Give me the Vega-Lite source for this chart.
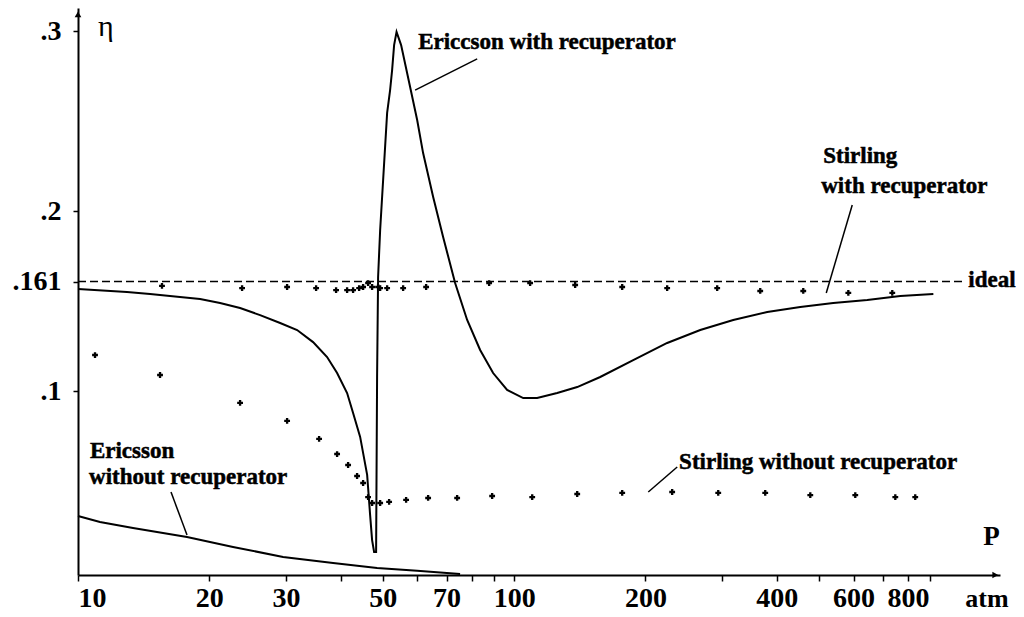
{
  "$schema": "https://vega.github.io/schema/vega-lite/v6.json",
  "width": 922,
  "height": 567,
  "autosize": {"type": "none"},
  "padding": {"left": 78, "top": 8, "right": 24, "bottom": 42},
  "background": "white",
  "config": {
    "view": {"stroke": null},
    "font": "Liberation Serif"
  },
  "datasets": {
    "ewr": [
      {"i": 1, "P": 10, "eta": 0.1569}, {"i": 2, "P": 12.95, "eta": 0.1552}, {"i": 3, "P": 14.63, "eta": 0.1541},
      {"i": 4, "P": 17.13, "eta": 0.1524}, {"i": 5, "P": 19.05, "eta": 0.1513}, {"i": 6, "P": 21.17, "eta": 0.1491},
      {"i": 7, "P": 23.53, "eta": 0.1463}, {"i": 8, "P": 26.15, "eta": 0.1424}, {"i": 9, "P": 29.07, "eta": 0.138},
      {"i": 10, "P": 31.8, "eta": 0.1341}, {"i": 11, "P": 34.59, "eta": 0.1274}, {"i": 12, "P": 37.25, "eta": 0.1191},
      {"i": 13, "P": 39.27, "eta": 0.1102}, {"i": 14, "P": 41.4, "eta": 0.0991}, {"i": 15, "P": 42.73, "eta": 0.088},
      {"i": 16, "P": 44.35, "eta": 0.0747}, {"i": 17, "P": 46.02, "eta": 0.0536}, {"i": 18, "P": 46.75, "eta": 0.0313},
      {"i": 19, "P": 47.24, "eta": 0.0174}, {"i": 20, "P": 47.74, "eta": 0.0108}, {"i": 21, "P": 48.25, "eta": 0.0108},
      {"i": 22, "P": 48.5, "eta": 0.108}, {"i": 23, "P": 48.76, "eta": 0.1636}, {"i": 24, "P": 49.29, "eta": 0.1897},
      {"i": 25, "P": 51.14, "eta": 0.2547}, {"i": 26, "P": 51.95, "eta": 0.2674}, {"i": 27, "P": 52.51, "eta": 0.2786},
      {"i": 28, "P": 53.06, "eta": 0.2924}, {"i": 29, "P": 53.75, "eta": 0.2997}, {"i": 30, "P": 55.06, "eta": 0.2924},
      {"i": 31, "P": 57.74, "eta": 0.2691}, {"i": 32, "P": 59.93, "eta": 0.2508}, {"i": 33, "P": 61.84, "eta": 0.2324},
      {"i": 34, "P": 65.21, "eta": 0.208}, {"i": 35, "P": 68.73, "eta": 0.1858}, {"i": 36, "P": 73.22, "eta": 0.1602},
      {"i": 37, "P": 78.03, "eta": 0.1397}, {"i": 38, "P": 83.56, "eta": 0.123}, {"i": 39, "P": 89.49, "eta": 0.1102},
      {"i": 40, "P": 96.36, "eta": 0.1008}, {"i": 41, "P": 104.9, "eta": 0.0963}, {"i": 42, "P": 112.9, "eta": 0.0963},
      {"i": 43, "P": 125.5, "eta": 0.0991}, {"i": 44, "P": 139.5, "eta": 0.1024}, {"i": 45, "P": 157.5, "eta": 0.108},
      {"i": 46, "P": 187.5, "eta": 0.1174}, {"i": 47, "P": 224.3, "eta": 0.1269}, {"i": 48, "P": 267.1, "eta": 0.1341},
      {"i": 49, "P": 317.9, "eta": 0.1397}, {"i": 50, "P": 380.4, "eta": 0.1441}, {"i": 51, "P": 452.9, "eta": 0.1469},
      {"i": 52, "P": 539, "eta": 0.1491}, {"i": 53, "P": 645, "eta": 0.1508}, {"i": 54, "P": 767.9, "eta": 0.153},
      {"i": 55, "P": 914.4, "eta": 0.1541}
    ],
    "ewo": [
      {"i": 1, "P": 10, "eta": 0.0308}, {"i": 2, "P": 11.23, "eta": 0.0274}, {"i": 3, "P": 13.37, "eta": 0.0241},
      {"i": 4, "P": 17.78, "eta": 0.0191}, {"i": 5, "P": 22.67, "eta": 0.0136}, {"i": 6, "P": 29.53, "eta": 0.008},
      {"i": 7, "P": 38.45, "eta": 0.0047}, {"i": 8, "P": 48.5, "eta": 0.0019}, {"i": 9, "P": 59.93, "eta": 0.0003},
      {"i": 10, "P": 75.17, "eta": -0.0015}
    ],
    "swr": [
      {"P": 15.58, "eta": 0.1586}, {"P": 23.78, "eta": 0.1574}, {"P": 30.16, "eta": 0.158}, {"P": 35.15, "eta": 0.1574},
      {"P": 39.06, "eta": 0.1563}, {"P": 41.4, "eta": 0.1563}, {"P": 42.73, "eta": 0.1563}, {"P": 44.11, "eta": 0.1574},
      {"P": 45.05, "eta": 0.158}, {"P": 46.25, "eta": 0.1602}, {"P": 47.24, "eta": 0.158}, {"P": 48.76, "eta": 0.158},
      {"P": 49.29, "eta": 0.1574}, {"P": 51.14, "eta": 0.1574}, {"P": 55.65, "eta": 0.1574}, {"P": 62.83, "eta": 0.158},
      {"P": 87.63, "eta": 0.1602}, {"P": 108.8, "eta": 0.1602}, {"P": 138.0, "eta": 0.1591}, {"P": 176.9, "eta": 0.158},
      {"P": 224.3, "eta": 0.1574}, {"P": 292.1, "eta": 0.1574}, {"P": 366.6, "eta": 0.1558}, {"P": 460.1, "eta": 0.1558},
      {"P": 583.7, "eta": 0.1547}, {"P": 736.1, "eta": 0.1547}
    ],
    "swo": [
      {"P": 10.94, "eta": 0.1202}, {"P": 15.42, "eta": 0.1091}, {"P": 23.53, "eta": 0.0936}, {"P": 30.16, "eta": 0.0836},
      {"P": 35.71, "eta": 0.0736}, {"P": 39.27, "eta": 0.0652}, {"P": 41.62, "eta": 0.0591}, {"P": 43.64, "eta": 0.053},
      {"P": 45.05, "eta": 0.0491}, {"P": 46.25, "eta": 0.0413}, {"P": 47.24, "eta": 0.038}, {"P": 49.29, "eta": 0.038},
      {"P": 51.68, "eta": 0.0386}, {"P": 56.53, "eta": 0.0397}, {"P": 63.5, "eta": 0.0408}, {"P": 74.01, "eta": 0.0408},
      {"P": 89.03, "eta": 0.0419}, {"P": 110.0, "eta": 0.0413}, {"P": 139.5, "eta": 0.043}, {"P": 176.9, "eta": 0.0436},
      {"P": 230.3, "eta": 0.0441}, {"P": 293.7, "eta": 0.0436}, {"P": 376.4, "eta": 0.0436}, {"P": 477.5, "eta": 0.0424},
      {"P": 605.5, "eta": 0.0424}, {"P": 748, "eta": 0.0413}, {"P": 831, "eta": 0.0413}
    ],
    "leaders": [
      {"P": 82.27, "eta": 0.2847, "P2": 59.29, "eta2": 0.2674},
      {"P": 595.9, "eta": 0.2036, "P2": 519.5, "eta2": 0.1547},
      {"P": 16.34, "eta": 0.0441, "P2": 17.78, "eta2": 0.0202},
      {"P": 236.5, "eta": 0.058, "P2": 203.0, "eta2": 0.0441}
    ],
    "notes": [
      {"P": 60.25, "eta": 0.2902, "t": "Ericcson with recuperator"},
      {"P": 511.3, "eta": 0.2269, "t": "Stirling"},
      {"P": 505.9, "eta": 0.2102, "t": "with recuperator"},
      {"P": 1100, "eta": 0.158, "t": "ideal"},
      {"P": 10.65, "eta": 0.063, "t": "Ericsson"},
      {"P": 10.6, "eta": 0.0486, "t": "without recuperator"},
      {"P": 238.9, "eta": 0.0569, "t": "Stirling without recuperator"}
    ]
  },
  "layer": [
    {
      "data": {"values": [{"P": 10, "P2": 1066, "eta": 0.161}]},
      "mark": {"type": "rule", "strokeDash": [8, 4], "strokeWidth": 1.5, "color": "black"},
      "encoding": {
        "x": {
          "field": "P", "type": "quantitative",
          "scale": {"type": "log", "domain": [10, 1300], "nice": false},
          "axis": {
            "values": [10, 20, 30, 40, 50, 60, 70, 80, 90, 100, 200, 300, 400, 500, 600, 700, 800, 900],
            "labelExpr": "indexof([10,20,30,50,70,100,200,400,600,800], datum.value) >= 0 ? toString(datum.value) : ''",
            "grid": false, "title": null,
            "domainColor": "black", "domainWidth": 2,
            "tickColor": "black", "tickWidth": 1.5, "tickSize": 6,
            "labelFont": "Liberation Serif", "labelFontWeight": "bold", "labelFontSize": 28,
            "labelColor": "black", "labelPadding": 3, "labelOverlap": false
          }
        },
        "x2": {"field": "P2"},
        "y": {
          "field": "eta", "type": "quantitative",
          "scale": {"domain": [-0.002, 0.313], "nice": false, "zero": false},
          "axis": {
            "values": [0.1, 0.161, 0.2, 0.3],
            "labelExpr": "slice(toString(datum.value), 1)",
            "grid": false, "title": null,
            "domainColor": "black", "domainWidth": 2,
            "tickColor": "black", "tickWidth": 1.5, "tickSize": 5,
            "labelFont": "Liberation Serif", "labelFontWeight": "bold", "labelFontSize": 28,
            "labelColor": "black", "labelPadding": 12
          }
        }
      }
    },
    {
      "data": {"name": "ewr"},
      "mark": {"type": "line", "color": "black", "strokeWidth": 2},
      "encoding": {
        "x": {"field": "P", "type": "quantitative"},
        "y": {"field": "eta", "type": "quantitative"},
        "order": {"field": "i", "type": "quantitative"}
      }
    },
    {
      "data": {"name": "ewo"},
      "mark": {"type": "line", "color": "black", "strokeWidth": 2},
      "encoding": {
        "x": {"field": "P", "type": "quantitative"},
        "y": {"field": "eta", "type": "quantitative"},
        "order": {"field": "i", "type": "quantitative"}
      }
    },
    {
      "data": {"name": "swr"},
      "mark": {"type": "point", "shape": "cross", "filled": true, "color": "black", "size": 34, "opacity": 1},
      "encoding": {
        "x": {"field": "P", "type": "quantitative"},
        "y": {"field": "eta", "type": "quantitative"}
      }
    },
    {
      "data": {"name": "swo"},
      "mark": {"type": "point", "shape": "cross", "filled": true, "color": "black", "size": 34, "opacity": 1},
      "encoding": {
        "x": {"field": "P", "type": "quantitative"},
        "y": {"field": "eta", "type": "quantitative"}
      }
    },
    {
      "data": {"name": "leaders"},
      "mark": {"type": "rule", "color": "black", "strokeWidth": 1.5},
      "encoding": {
        "x": {"field": "P", "type": "quantitative"},
        "y": {"field": "eta", "type": "quantitative"},
        "x2": {"field": "P2"},
        "y2": {"field": "eta2"}
      }
    },
    {
      "data": {"name": "notes"},
      "mark": {"type": "text", "align": "left", "baseline": "alphabetic", "font": "Liberation Serif", "fontWeight": "bold", "fontSize": 23, "color": "black", "stroke": "black", "strokeWidth": 0.5},
      "encoding": {
        "x": {"field": "P", "type": "quantitative"},
        "y": {"field": "eta", "type": "quantitative"},
        "text": {"field": "t"}
      }
    },
    {
      "data": {"values": [{"P": 1190, "eta": 0.0147, "t": "P"}]},
      "mark": {"type": "text", "align": "left", "baseline": "alphabetic", "font": "Liberation Serif", "fontWeight": "bold", "fontSize": 27, "color": "black"},
      "encoding": {
        "x": {"field": "P", "type": "quantitative"},
        "y": {"field": "eta", "type": "quantitative"},
        "text": {"field": "t"}
      }
    },
    {
      "data": {"values": [{"P": 1082, "eta": -0.0198, "t": "atm"}]},
      "mark": {"type": "text", "align": "left", "baseline": "alphabetic", "font": "Liberation Serif", "fontWeight": "bold", "fontSize": 26, "color": "black"},
      "encoding": {
        "x": {"field": "P", "type": "quantitative"},
        "y": {"field": "eta", "type": "quantitative"},
        "text": {"field": "t"}
      }
    },
    {
      "data": {"values": [{"P": 11.11, "eta": 0.2974, "t": "η"}]},
      "mark": {"type": "text", "align": "left", "baseline": "alphabetic", "font": "Liberation Serif", "fontSize": 30, "color": "black"},
      "encoding": {
        "x": {"field": "P", "type": "quantitative"},
        "y": {"field": "eta", "type": "quantitative"},
        "text": {"field": "t"}
      }
    },
    {
      "data": {"values": [{"P": 10, "eta": 0.3095}]},
      "mark": {"type": "point", "shape": "triangle-up", "filled": true, "color": "black", "size": 45, "opacity": 1},
      "encoding": {
        "x": {"field": "P", "type": "quantitative"},
        "y": {"field": "eta", "type": "quantitative"}
      }
    },
    {
      "data": {"values": [{"P": 1268, "eta": -0.002}]},
      "mark": {"type": "point", "shape": "triangle-right", "filled": true, "color": "black", "size": 45, "opacity": 1},
      "encoding": {
        "x": {"field": "P", "type": "quantitative"},
        "y": {"field": "eta", "type": "quantitative"}
      }
    }
  ]
}
